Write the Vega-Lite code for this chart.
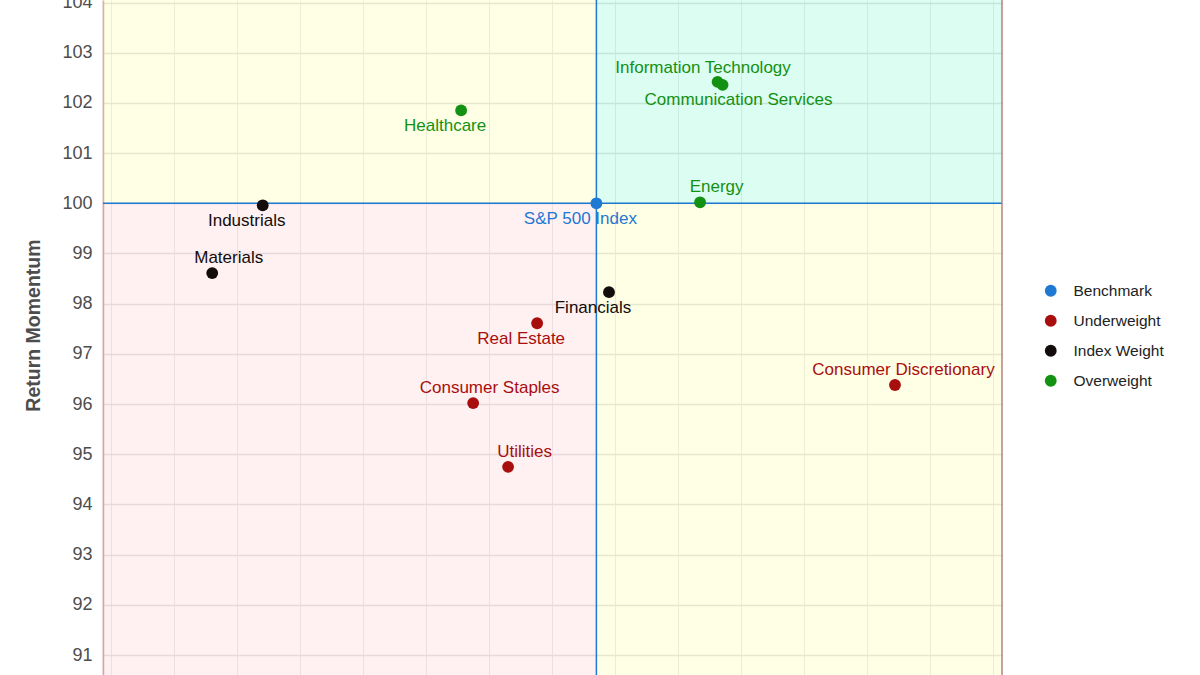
{
  "$schema": "https://vega.github.io/schema/vega-lite/v6.json",
  "autosize": {"type": "none"},
  "padding": {"left": 103, "top": 0, "right": 198, "bottom": 0},
  "width": 899,
  "height": 675,
  "background": "white",
  "config": {
    "view": {"stroke": null},
    "font": "Liberation Sans",
    "legend": {"labelFont": "Liberation Sans"}
  },
  "datasets": {
    "sectors": [
      {"sector": "S&P 500 Index", "rs": 100.0, "mom": 100.0, "weight": "Benchmark"},
      {"sector": "Information Technology", "rs": 101.924, "mom": 102.42, "weight": "Overweight"},
      {"sector": "Communication Services", "rs": 102.003, "mom": 102.36, "weight": "Overweight"},
      {"sector": "Healthcare", "rs": 97.852, "mom": 101.85, "weight": "Overweight"},
      {"sector": "Energy", "rs": 101.646, "mom": 100.02, "weight": "Overweight"},
      {"sector": "Industrials", "rs": 94.702, "mom": 99.96, "weight": "Index Weight"},
      {"sector": "Materials", "rs": 93.9, "mom": 98.61, "weight": "Index Weight"},
      {"sector": "Financials", "rs": 100.2, "mom": 98.23, "weight": "Index Weight"},
      {"sector": "Real Estate", "rs": 99.059, "mom": 97.61, "weight": "Underweight"},
      {"sector": "Consumer Staples", "rs": 98.043, "mom": 96.02, "weight": "Underweight"},
      {"sector": "Utilities", "rs": 98.598, "mom": 94.75, "weight": "Underweight"},
      {"sector": "Consumer Discretionary", "rs": 104.741, "mom": 96.38, "weight": "Underweight"}
    ],
    "quadrants": [
      {"zone": "Improving", "x1": 90, "x2": 100, "y1": 100, "y2": 110},
      {"zone": "Leading", "x1": 100, "x2": 110, "y1": 100, "y2": 110},
      {"zone": "Lagging", "x1": 90, "x2": 100, "y1": 85, "y2": 100},
      {"zone": "Weakening", "x1": 100, "x2": 110, "y1": 85, "y2": 100}
    ],
    "centre": [{"rs": 100, "mom": 100, "edge": 106.44}]
  },
  "layer": [
    {
      "data": {"name": "quadrants"},
      "mark": {"type": "rect", "clip": true, "opacity": 0.5},
      "encoding": {
        "x": {
          "field": "x1", "type": "quantitative",
          "scale": {"domain": [92.166, 106.44], "nice": false, "zero": false},
          "axis": {
            "values": [92.3, 92.8, 93.3, 93.8, 94.3, 94.8, 95.3, 95.8, 96.3, 96.8, 97.3, 97.8, 98.3, 98.8, 99.3, 99.8, 100.3, 100.8, 101.3, 101.8, 102.3, 102.8, 103.3, 103.8, 104.3, 104.8, 105.3, 105.8, 106.3],
            "labels": false, "ticks": false, "domain": false, "title": null,
            "grid": true,
            "gridColor": {"condition": {"test": "abs(datum.value - floor(datum.value) - 0.8) < 0.01", "value": "#cfcfcf"}, "value": "#dadada"},
            "gridWidth": {"condition": {"test": "abs(datum.value - floor(datum.value) - 0.8) < 0.01", "value": 1.4}, "value": 1}
          }
        },
        "x2": {"field": "x2"},
        "y": {
          "field": "y1", "type": "quantitative",
          "scale": {"domain": [90.603, 104.05], "nice": false, "zero": false},
          "axis": {
            "values": [91, 91.5, 92, 92.5, 93, 93.5, 94, 94.5, 95, 95.5, 96, 96.5, 97, 97.5, 98, 98.5, 99, 99.5, 100, 100.5, 101, 101.5, 102, 102.5, 103, 103.5, 104],
            "labelExpr": "datum.value % 1 == 0 ? format(datum.value, 'd') : ''",
            "ticks": false,
            "labelPadding": 11,
            "labelFontSize": 18,
            "labelColor": "#4d4d4d",
            "labelFont": "Liberation Sans",
            "domain": true,
            "domainColor": "#b36565",
            "domainWidth": 1.5,
            "grid": true,
            "gridColor": {"condition": {"test": "datum.value % 1 == 0", "value": "#cfcfcf"}, "value": "#dadada"},
            "gridWidth": {"condition": {"test": "datum.value % 1 == 0", "value": 1.4}, "value": 1},
            "title": "Return Momentum",
            "titleFontSize": 19.5,
            "titleFontWeight": "bold",
            "titleColor": "#4d4d4d",
            "titleFont": "Liberation Sans",
            "titleX": -70,
            "titleY": 325,
            "titleAngle": -90,
            "titleAlign": "center",
            "titleBaseline": "middle"
          }
        },
        "y2": {"field": "y2"},
        "fill": {
          "field": "zone", "type": "nominal",
          "scale": {"domain": ["Improving", "Leading", "Lagging", "Weakening"], "range": ["#ffffcc", "#b9fbe5", "#ffe3e3", "#ffffcc"]},
          "legend": null
        }
      }
    },
    {
      "data": {"name": "centre"},
      "mark": {"type": "rule", "color": "#1f78d1", "strokeWidth": 1.5},
      "encoding": {"y": {"field": "mom", "type": "quantitative"}}
    },
    {
      "data": {"name": "centre"},
      "mark": {"type": "rule", "color": "#1f78d1", "strokeWidth": 1.5},
      "encoding": {"x": {"field": "rs", "type": "quantitative"}}
    },
    {
      "data": {"name": "centre"},
      "mark": {"type": "rule", "color": "#b98080", "strokeWidth": 1.5},
      "encoding": {"x": {"field": "edge", "type": "quantitative"}}
    },
    {
      "data": {"name": "sectors"},
      "mark": {"type": "point", "filled": true, "opacity": 1, "size": 140},
      "encoding": {
        "x": {"field": "rs", "type": "quantitative"},
        "y": {"field": "mom", "type": "quantitative"},
        "color": {
          "field": "weight", "type": "nominal",
          "scale": {"domain": ["Benchmark", "Underweight", "Index Weight", "Overweight"], "range": ["#1f78d1", "#a80e0e", "#120c0c", "#139113"]},
          "legend": {
            "title": null,
            "orient": "none",
            "legendX": 940,
            "legendY": 283,
            "symbolType": "circle",
            "symbolSize": 140,
            "symbolOpacity": 1,
            "labelFontSize": 15.5,
            "labelColor": "#222222",
            "labelOffset": 15,
            "rowPadding": 13,
            "padding": 0
          }
        }
      }
    },
    {
      "data": {"name": "sectors"},
      "transform": [{"filter": {"field": "sector", "oneOf": ["S&P 500 Index", "Healthcare", "Industrials", "Financials", "Real Estate"]}}],
      "mark": {"type": "text", "fontSize": 17, "font": "Liberation Sans", "align": "center", "baseline": "middle", "dx": -16, "dy": 16},
      "encoding": {
        "x": {"field": "rs", "type": "quantitative"},
        "y": {"field": "mom", "type": "quantitative"},
        "text": {"field": "sector"},
        "color": {"field": "weight", "type": "nominal", "legend": null}
      }
    },
    {
      "data": {"name": "sectors"},
      "transform": [{"filter": {"field": "sector", "oneOf": ["Information Technology"]}}],
      "mark": {"type": "text", "fontSize": 17, "font": "Liberation Sans", "align": "center", "baseline": "middle", "dx": -14.5, "dy": -14},
      "encoding": {
        "x": {"field": "rs", "type": "quantitative"},
        "y": {"field": "mom", "type": "quantitative"},
        "text": {"field": "sector"},
        "color": {"field": "weight", "type": "nominal", "legend": null}
      }
    },
    {
      "data": {"name": "sectors"},
      "transform": [{"filter": {"field": "sector", "oneOf": ["Communication Services"]}}],
      "mark": {"type": "text", "fontSize": 17, "font": "Liberation Sans", "align": "center", "baseline": "middle", "dx": 16, "dy": 15.5},
      "encoding": {
        "x": {"field": "rs", "type": "quantitative"},
        "y": {"field": "mom", "type": "quantitative"},
        "text": {"field": "sector"},
        "color": {"field": "weight", "type": "nominal", "legend": null}
      }
    },
    {
      "data": {"name": "sectors"},
      "transform": [{"filter": {"field": "sector", "oneOf": ["Energy", "Materials", "Consumer Staples", "Utilities"]}}],
      "mark": {"type": "text", "fontSize": 17, "font": "Liberation Sans", "align": "center", "baseline": "middle", "dx": 16.5, "dy": -15},
      "encoding": {
        "x": {"field": "rs", "type": "quantitative"},
        "y": {"field": "mom", "type": "quantitative"},
        "text": {"field": "sector"},
        "color": {"field": "weight", "type": "nominal", "legend": null}
      }
    },
    {
      "data": {"name": "sectors"},
      "transform": [{"filter": {"field": "sector", "oneOf": ["Consumer Discretionary"]}}],
      "mark": {"type": "text", "fontSize": 17, "font": "Liberation Sans", "align": "center", "baseline": "middle", "dx": 8.5, "dy": -15},
      "encoding": {
        "x": {"field": "rs", "type": "quantitative"},
        "y": {"field": "mom", "type": "quantitative"},
        "text": {"field": "sector"},
        "color": {"field": "weight", "type": "nominal", "legend": null}
      }
    }
  ]
}
